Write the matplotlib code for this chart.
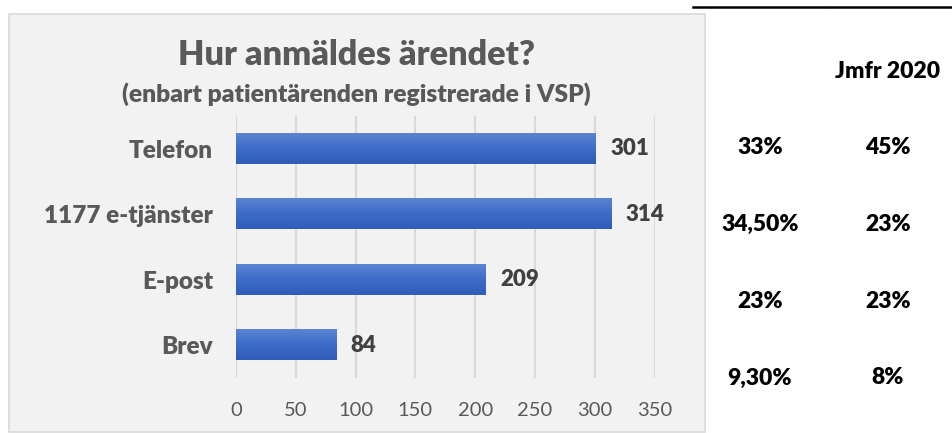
import numpy as np
import matplotlib.pyplot as plt
from matplotlib.patches import Rectangle
from matplotlib.lines import Line2D
from matplotlib.colors import LinearSegmentedColormap

plt.rcParams['font.family'] = ['Lato', 'DejaVu Sans']

# data
categories = ["Telefon", "1177 e-tjänster", "E-post", "Brev"]
counts = [301, 314, 209, 84]
share_2021 = ["33%", "34,50%", "23%", "9,30%"]
share_2020 = ["45%", "23%", "23%", "8%"]
xticks = [0, 50, 100, 150, 200, 250, 300, 350]

BOLD = "heavy"

W, H = 952, 433
fig = plt.figure(figsize=(W / 100, H / 100), dpi=100)
fig.patch.set_facecolor("white")

def fx(px):
    return px / W

def fy(py):
    return 1 - py / H

# grey chart panel
fig.patches.append(Rectangle((fx(9), fy(432)), fx(705) - fx(9), fy(14) - fy(432),
                             transform=fig.transFigure, facecolor="#f2f2f2",
                             edgecolor="#d9d9d9", lw=1.2, zorder=-5))

ax = fig.add_axes([fx(236), fy(378), fx(654.6) - fx(236), fy(116) - fy(378)])
ax.set_facecolor("none")

ypos = np.arange(len(categories))
bh = 0.46
# gradient bars
grad = np.linspace(0, 1, 64).reshape(-1, 1)
cmap = LinearSegmentedColormap.from_list("b", ["#5b84d2", "#3d6bc8", "#2e5cb8"])
for y, v in zip(ypos, counts):
    ax.imshow(grad, extent=(0, v, y + bh / 2, y - bh / 2), cmap=cmap,
              aspect="auto", zorder=2, interpolation="bilinear")
    ax.text(v + 12, y, str(v), va="center", ha="left", fontsize=16,
            fontweight=BOLD, color="#404040")

ax.set_xlim(0, 350)
ax.set_ylim(len(categories) - 0.5, -0.5)
ax.set_xticks(xticks)
ax.set_yticks(ypos)
ax.set_yticklabels(categories, fontsize=17.5, fontweight=BOLD, color="#595959")
ax.tick_params(axis="x", length=0, pad=17, labelsize=14.5, labelcolor="#595959")
ax.tick_params(axis="y", length=0, pad=16.5)
ax.grid(axis="x", color="#d9d9d9", lw=1.5, zorder=1)
ax.set_axisbelow(True)
for s in ax.spines.values():
    s.set_visible(False)

fig.text(fx(356), fy(55), "Hur anmäldes ärendet?", ha="center", va="center",
         fontsize=24.7, fontweight=BOLD, color="#595959")
fig.text(fx(356), fy(94), "(enbart patientärenden registrerade i VSP)", ha="center",
         va="center", fontsize=17.7, fontweight=BOLD, color="#595959")

# table on the right
fig.lines.append(Line2D([fx(693), fx(828)], [fy(7), fy(7)], transform=fig.transFigure,
                        color="black", lw=1.8))
fig.lines.append(Line2D([fx(830), fx(952)], [fy(7), fy(7)], transform=fig.transFigure,
                        color="black", lw=1.8))
fig.text(fx(888), fy(71), "Jmfr 2020", ha="center", va="center", fontsize=16.5,
         fontweight=BOLD, color="black")
row_y = [148, 224, 301, 378]
for ry, a, b in zip(row_y, share_2021, share_2020):
    fig.text(fx(760), fy(ry), a, ha="center", va="center", fontsize=16.5,
             fontweight=BOLD, color="black")
    fig.text(fx(888), fy(ry), b, ha="center", va="center", fontsize=16.5,
             fontweight=BOLD, color="black")

fig.savefig("out.png", dpi=100)
